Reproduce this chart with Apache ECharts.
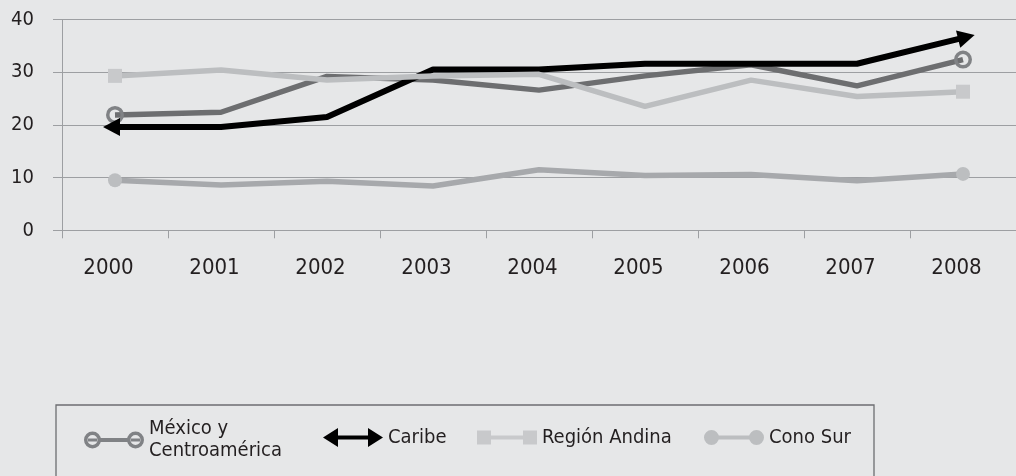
<!DOCTYPE html>
<html>
<head>
<meta charset="utf-8">
<script src="https://cdn.jsdelivr.net/npm/echarts@6/dist/echarts.min.js"></script>
<style>
  html, body { margin: 0; padding: 0; background: #e6e7e8; }
  #chart { width: 1016px; height: 476px; }
</style>
</head>
<body>
<div id="chart"></div>
<script>
// ---- data ----
const years = ['2000', '2001', '2002', '2003', '2004', '2005', '2006', '2007', '2008'];
const seriesNames = ['México y Centroamérica', 'Caribe', 'Región Andina', 'Cono Sur'];
const legendLabels = ['México y\nCentroamérica', 'Caribe', 'Región Andina', 'Cono Sur'];
const mexico  = [21.9, 22.4, 29.2, 28.5, 26.6, 29.3, 31.4, 27.4, 32.4];
const caribe  = [19.6, 19.6, 21.5, 30.5, 30.5, 31.6, 31.6, 31.6, 36.5];
const andina  = [29.3, 30.4, 28.5, 29.3, 29.6, 23.5, 28.5, 25.4, 26.3];
const conoSur = [9.5, 8.6, 9.3, 8.4, 11.5, 10.4, 10.6, 9.4, 10.7];
const yMin = 0, yMax = 40, yStep = 10;

// ---- style ----
const FONT = '"DejaVu Sans Condensed", "DejaVu Sans", sans-serif';
const TEXT = '#231f20';
const GRID = '#9d9fa2';

function endMarked(values, symbol, extra) {
  const last = values.length - 1;
  return values.map((v, i) => (i === 0 || i === last) ? Object.assign({ value: v, symbol: symbol }, extra || {}) : v);
}

const mexIcon = 'path://M0,8.5 A8.5,8.5 0 1 1 17,8.5 A8.5,8.5 0 1 1 0,8.5 Z M3.5,8.5 A5,5 0 1 0 13.5,8.5 A5,5 0 1 0 3.5,8.5 Z M4,7 L13,7 L13,10 L4,10 Z ' +
  'M43,8.5 A8.5,8.5 0 1 1 60,8.5 A8.5,8.5 0 1 1 43,8.5 Z M46.5,8.5 A5,5 0 1 0 56.5,8.5 A5,5 0 1 0 46.5,8.5 Z M47,7 L56,7 L56,10 L47,10 Z ' +
  'M16,6.5 L44,6.5 L44,10.5 L16,10.5 Z';
const carIcon = 'path://M0,9.5 L15,0 L15,7.5 L45,7.5 L45,0 L60,9.5 L45,19 L45,11.5 L15,11.5 L15,19 Z';
const andIcon = 'path://M0,0 L14,0 L14,5 L46,5 L46,0 L60,0 L60,14 L46,14 L46,9 L14,9 L14,14 L0,14 Z';
const conIcon = 'path://M0,7.5 A7.5,7.5 0 1 1 15,7.5 A7.5,7.5 0 1 1 0,7.5 Z M45,7.5 A7.5,7.5 0 1 1 60,7.5 A7.5,7.5 0 1 1 45,7.5 Z M7.5,5.5 L52.5,5.5 L52.5,9.5 L7.5,9.5 Z';

function legendFor(idx, icon, color, left, top, h, extraText) {
  return {
    data: [{ name: seriesNames[idx], icon: icon, itemStyle: { color: color, borderWidth: 0, opacity: 1 } }],
    left: left, top: top, padding: 0, itemWidth: 60, itemHeight: h,
    selectedMode: false,
    formatter: () => legendLabels[idx],
    textStyle: Object.assign({ fontFamily: FONT, fontSize: 20, lineHeight: 22, color: TEXT }, extraText || {})
  };
}

const chart = echarts.init(document.getElementById('chart'), null, { renderer: 'canvas' });

function buildOption(arrowStart, arrowEnd) {
  const lastC = caribe.length - 1;
  const caribeData = caribe.map((v, i) => {
    if (i === 0) return Object.assign({ value: v, symbol: 'triangle', symbolSize: [18, 17] }, arrowStart);
    if (i === lastC) return Object.assign({ value: v, symbol: 'triangle', symbolSize: [18, 17] }, arrowEnd);
    return v;
  });
  return {
    backgroundColor: '#e6e7e8',
    animation: false,
    textStyle: { fontFamily: FONT },
    grid: { left: 62, top: 19.5, width: 961, height: 210.8, containLabel: false },
    xAxis: {
      type: 'category',
      data: years,
      boundaryGap: true,
      axisLine: { show: true, lineStyle: { color: GRID, width: 1 } },
      axisTick: { show: true, length: 8, lineStyle: { color: GRID, width: 1 } },
      axisLabel: { color: TEXT, fontSize: 22, fontFamily: FONT, margin: 27, padding: [0, 13, 0, 0] },
      splitLine: { show: false }
    },
    yAxis: {
      type: 'value',
      min: yMin, max: yMax, interval: yStep,
      axisLine: { show: true, lineStyle: { color: GRID, width: 1 } },
      axisTick: { show: true, length: 9, lineStyle: { color: GRID, width: 1 } },
      axisLabel: { color: TEXT, fontSize: 20, fontFamily: FONT, margin: 28 },
      splitLine: { show: true, lineStyle: { color: GRID, width: 1 } }
    },
    legend: [
      legendFor(0, mexIcon, '#808285', 84, 411, 17, { padding: [14, 0, 0, 0] }),
      legendFor(1, carIcon, '#000000', 323, 426.5, 19),
      legendFor(2, andIcon, '#c8c9cb', 477, 426.5, 14),
      legendFor(3, conIcon, '#bcbec0', 704, 426.5, 15)
    ],
    graphic: [{
      type: 'rect', silent: true,
      shape: { x: 56, y: 405, width: 818, height: 90 },
      style: { fill: 'none', stroke: '#6d6e71', lineWidth: 1.3 }
    }],
    series: [
      {
        name: seriesNames[0], type: 'line', data: endMarked(mexico, 'circle'),
        symbol: 'none', symbolSize: 14.5,
        lineStyle: { color: '#6d6e70', width: 5.5 },
        itemStyle: { color: 'rgba(0,0,0,0)', borderColor: '#808285', borderWidth: 3.5 },
        emphasis: { disabled: true }
      },
      {
        name: seriesNames[1], type: 'line', data: caribeData,
        symbol: 'none',
        lineStyle: { color: '#000000', width: 6 },
        itemStyle: { color: '#000000', borderWidth: 0 },
        emphasis: { disabled: true }
      },
      {
        name: seriesNames[2], type: 'line', data: endMarked(andina, 'rect'),
        symbol: 'none', symbolSize: 14,
        lineStyle: { color: '#bcbec0', width: 5.5 },
        itemStyle: { color: '#c8c9cb', borderWidth: 0 },
        emphasis: { disabled: true }
      },
      {
        name: seriesNames[3], type: 'line', data: endMarked(conoSur, 'circle'),
        symbol: 'none', symbolSize: 14,
        lineStyle: { color: '#a7a9ac', width: 5.5 },
        itemStyle: { color: '#bcbec0', borderWidth: 0 },
        emphasis: { disabled: true }
      }
    ]
  };
}

chart.setOption(buildOption({}, {}));

// orient arrowheads along the line ends using the chart's own scales
function arrowFor(iEnd, iPrev) {
  const a = chart.convertToPixel({ seriesIndex: 1 }, [iEnd, caribe[iEnd]]);
  const b = chart.convertToPixel({ seriesIndex: 1 }, [iPrev, caribe[iPrev]]);
  let dx = a[0] - b[0], dy = a[1] - b[1];
  const len = Math.hypot(dx, dy) || 1;
  dx /= len; dy /= len;
  const rot = Math.atan2(-dx, -dy) * 180 / Math.PI;
  const push = 3.5;
  return { symbolRotate: rot, symbolOffset: [dx * push, dy * push] };
}
chart.setOption(buildOption(arrowFor(0, 1), arrowFor(caribe.length - 1, caribe.length - 2)));
</script>
</body>
</html>
